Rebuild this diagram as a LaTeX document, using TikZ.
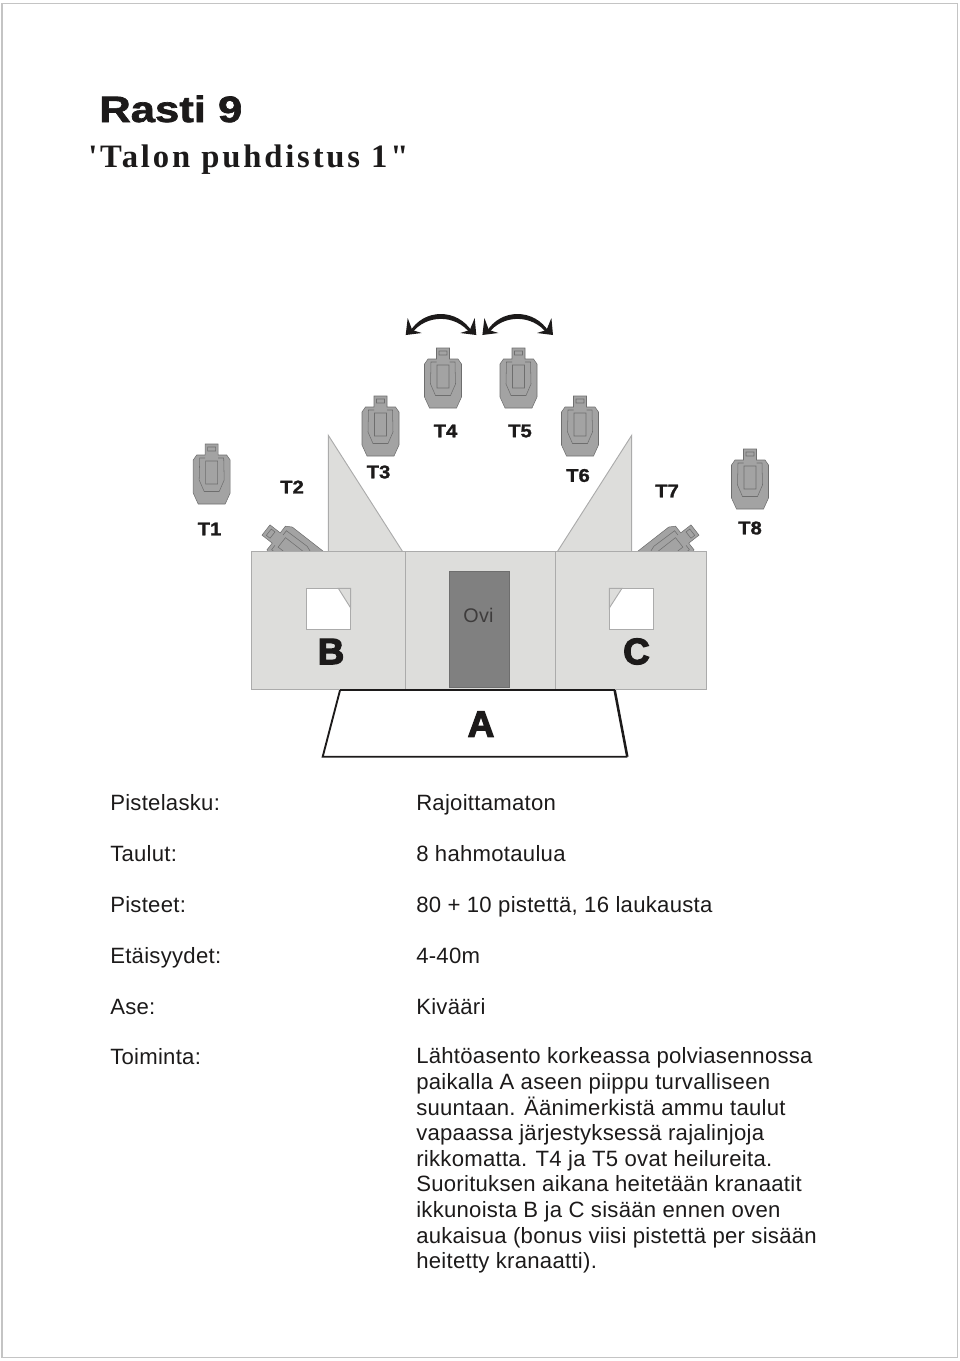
\documentclass[tikz,border=0pt]{standalone}
\usepackage{fontspec}
\setmainfont[LetterSpace=1.2]{Liberation Sans}
\newfontfamily\titlefont[FakeBold=1.8,FakeStretch=1.19]{Liberation Sans Bold}
\newfontfamily\heavyfont[FakeBold=1.5,FakeStretch=1.1]{Liberation Sans Bold}
\newfontfamily\blockfont[FakeBold=3.5]{Liberation Sans Bold}
\newfontfamily\subfont[LetterSpace=8.7]{Liberation Serif Bold}
\definecolor{wallfill}{HTML}{DDDDDB}
\definecolor{walledge}{HTML}{ABABAB}
\definecolor{doorfill}{HTML}{808080}
\definecolor{targetfill}{HTML}{A3A3A3}
\definecolor{targetedge}{HTML}{6E6E6E}
\definecolor{inkc}{HTML}{1C1A1A}
\tikzset{
  wall/.style={draw=walledge,fill=wallfill,line width=.7pt},
  bodytext/.style={anchor=base west,inner sep=0pt,font=\fontsize{16.6pt}{19.2pt}\selectfont,text=inkc},
  tlabel/.style={inner sep=0pt,font=\heavyfont\fontsize{13.8pt}{15pt}\selectfont,text=inkc},
  biglabel/.style={inner sep=0pt,font=\blockfont\fontsize{27.5pt}{30pt}\selectfont,text=inkc},
  target/.pic={
    \path[draw=targetedge,fill=targetfill,line width=.4pt]
      (-6.5,0) -- (6.5,0) -- (6.5,11) -- (15,11) -- (18.5,16) -- (18.5,49) -- (13.5,60)
      -- (-13.5,60) -- (-18.5,49) -- (-18.5,16) -- (-15,11) -- (-6.5,11) -- cycle;
    \path[draw=targetedge,line width=.4pt]
      (-4,3) rectangle (4,7)
      (-6,17) rectangle (6,40)
      (-6.5,14) -- (-12,14) -- (-12.5,36) -- (-7.5,47.5) -- (7.5,47.5) -- (12.5,36) -- (12,14) -- (6.5,14);
  },
  swingarrow/.pic={
    \fill[inkc] (4,-3) .. controls (18,-27) and (52,-27) .. (66.6,-3)
      -- (64.6,-1.5) .. controls (50,-21) and (20,-21) .. (6,-1.5) -- cycle;
    \fill[inkc] (0,0) -- (2,-17) -- (6.5,-5) -- (16,-2) -- cycle;
    \fill[inkc] (70.6,0) -- (69,-17) -- (64.1,-5) -- (54.6,-2) -- cycle;
  }
}
\begin{document}
\begin{tikzpicture}[x=.75pt,y=-.75pt,line join=miter]
\useasboundingbox (0,0) rectangle (960,1361);
\node[draw=walledge!70,line width=1pt,minimum width=955.5*.75pt,minimum height=1354.5*.75pt,anchor=north west,inner sep=0pt] (page) at (1.2,2.5) {};

% titles
\node[anchor=base west,inner sep=0pt,font=\titlefont\fontsize{27.5pt}{30pt}\selectfont,text=inkc] (title) at (99,122) {Rasti 9};
\node[anchor=base west,inner sep=0pt,font=\subfont\fontsize{24.5pt}{28pt}\selectfont,text=inkc] (subtitle) at (88,167) {'Talon puhdistus 1"};

% swing arrows
\pic at (405.7,335) {swingarrow};
\pic at (482.4,335) {swingarrow};

% targets
\pic at (211.7,444) {target};
\pic at (380.5,396) {target};
\pic at (443,348) {target};
\pic at (518.5,348) {target};
\pic at (580,396) {target};
\pic at (750,449) {target};
\begin{scope}
  \clip (240,500) rectangle (720,551.7);
  \pic[rotate=52,yscale=1.18] at (266,530) {target};
  \pic[rotate=-52,yscale=1.18] at (695,530) {target};
\end{scope}

% target labels
\node[tlabel] (t1) at (209.5,529) {T1};
\node[tlabel] (t2) at (292,487) {T2};
\node[tlabel] (t3) at (378.5,472) {T3};
\node[tlabel] (t4) at (445.5,431) {T4};
\node[tlabel] (t5) at (520,431) {T5};
\node[tlabel] (t6) at (578,475.5) {T6};
\node[tlabel] (t7) at (667,491) {T7};
\node[tlabel] (t8) at (750,528) {T8};

% wings
\path[wall] (328.3,435.3) -- (402.7,551.7) -- (328.3,551.7) -- cycle;
\path[wall] (631.7,435.3) -- (631.7,551.7) -- (557.3,551.7) -- cycle;

% walls
\path[wall] (251.3,551.7) rectangle (405.7,689.3);
\path[wall] (405.7,551.7) rectangle (555.3,689.3);
\path[wall] (555.3,551.7) rectangle (706.7,689.3);

% door
\node[draw=targetedge,fill=doorfill,line width=.6pt,minimum width=60*.75pt,minimum height=116*.75pt,inner sep=0pt] (door) at (479.3,629.7) {};
\node[inner sep=0pt,font=\fontsize{14.8pt}{16pt}\selectfont,text=inkc!85] (ovi) at (478.5,615) {Ovi};

% windows
\path[wall,fill=white] (306,588.3) rectangle (350.7,629.7);
\path[wall] (338.3,588.3) -- (350.7,588.3) -- (350.7,608) -- cycle;
\path[wall,fill=white] (609.3,588.3) rectangle (653.7,629.7);
\path[wall] (609.3,588.3) -- (622,588.3) -- (609.3,608) -- cycle;
\node[biglabel] (lb) at (331,651.5) {B};
\node[biglabel] (lc) at (636.5,651.5) {C};

% position A
\draw[inkc,line width=1.5pt] (340,690.3) -- (614.7,690.3);
\draw[inkc,line width=1.4pt] (340,690.3) -- (322.7,756.7) -- (627.3,756.7);
\draw[inkc,line width=1.9pt] (614.7,690.3) -- (627.3,756.7);
\node[biglabel] (la) at (481,724) {A};

% table
\node[bodytext] (k1) at (110,810.5) {Pistelasku:};
\node[bodytext] (k2) at (110,861.5) {Taulut:};
\node[bodytext] (k3) at (110,912.5) {Pisteet:};
\node[bodytext] (k4) at (110,963.5) {Etäisyydet:};
\node[bodytext] (k5) at (110,1014.5) {Ase:};
\node[bodytext] (k6) at (110,1064) {Toiminta:};
\node[bodytext] (v1) at (416,810.5) {Rajoittamaton};
\node[bodytext] (v2) at (416,861.5) {8 hahmotaulua};
\node[bodytext] (v3) at (416,912.5) {80 + 10 pistettä, 16 laukausta};
\node[bodytext] (v4) at (416,963.5) {4-40m};
\node[bodytext] (v5) at (416,1014.5) {Kivääri};
\node[bodytext,align=left,anchor=north west] (v6) at (416,1047.5) {Lähtöasento korkeassa polviasennossa\\
paikalla A aseen piippu turvalliseen\\
suuntaan. Äänimerkistä ammu taulut\\
vapaassa järjestyksessä rajalinjoja\\
rikkomatta. T4 ja T5 ovat heilureita.\\
Suorituksen aikana heitetään kranaatit\\
ikkunoista B ja C sisään ennen oven\\
aukaisua (bonus viisi pistettä per sisään\\
heitetty kranaatti).};
\end{tikzpicture}
\end{document}
